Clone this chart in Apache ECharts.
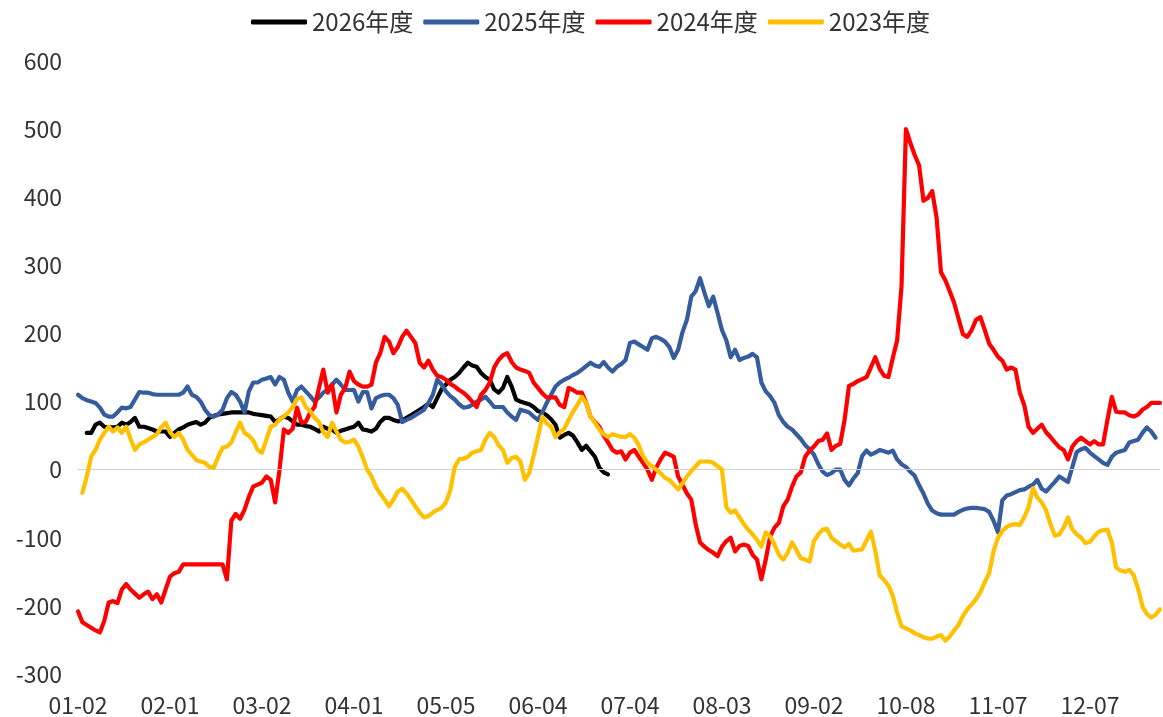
<!DOCTYPE html>
<html>
<head>
<meta charset="utf-8">
<title>年度走势对比</title>
<script src="https://cdn.jsdelivr.net/npm/echarts@6/dist/echarts.min.js"></script>
<style>
  html, body { margin: 0; padding: 0; background: #ffffff; }
  #chart { width: 1163px; height: 717px; }
</style>
</head>
<body>
<div id="chart"></div>
<script>
// X axis: trading-day index within the year; one label every 21 trading days.
const tickLabels = ['01-02', '02-01', '03-02', '04-01', '05-05', '06-04',
                    '07-04', '08-03', '09-02', '10-08', '11-07', '12-07'];
const TICK_STEP = 21;
const LAST_DAY = 247;

const seriesNames = ['2026年度', '2025年度', '2024年度', '2023年度'];
const seriesColors = ['#000000', '#355C9D', '#FF0000', '#FFC000'];

// Daily values, index = trading day (null = no data for that day)
const s2026 = [
  null, null, 54, 54, 66, 69, 63, 62, 62, 63, 69, 66, 70, 76, 63, 63, 61, 59, 56, 56,
  56, 48, 54, 59, 62, 66, 68, 70, 66, 69, 76, 79, 81, 82, 83, 84, 84, 84, 84, 84,
  82, 81, 80, 79, 78, 70, 74, 78, 76, 71, 66, 66, 64, 63, 60, 56, 63, 60, 59, 54,
  57, 59, 61, 63, 69, 59, 58, 56, 60, 70, 76, 76, 73, 71, 72, 76, 80, 84, 88, 92,
  97, 92, 105, 118, 125, 132, 136, 142, 150, 157, 153, 151, 142, 136, 132, 118, 113, 120, 136, 122,
  103, 100, 98, 96, 92, 86, 84, 80, 74, 66, 47, 51, 54, 50, 40, 29, 35, 27, 19, 3,
  -4, -7
];

const s2025 = [
  110, 105, 102, 100, 98, 91, 81, 78, 78, 84, 91, 90, 92, 103, 114, 113, 113, 111, 110, 110,
  110, 110, 110, 110, 113, 122, 110, 107, 100, 88, 80, 78, 81, 88, 105, 114, 110, 100, 84, 115,
  128, 128, 132, 134, 136, 125, 136, 132, 113, 100, 117, 122, 115, 108, 100, 106, 113, 118, 125, 132,
  125, 117, 117, 117, 100, 114, 114, 90, 105, 108, 110, 110, 105, 95, 70, 73, 76, 80, 84, 88,
  98, 110, 132, 125, 115, 108, 103, 96, 91, 92, 95, 100, 103, 107, 100, 92, 92, 92, 84, 78,
  73, 88, 86, 84, 78, 73, 84, 98, 110, 122, 128, 132, 135, 139, 142, 147, 152, 157, 153, 151,
  158, 150, 144, 151, 155, 161, 186, 188, 184, 180, 176, 193, 195, 192, 188, 180, 164, 176, 202, 220,
  254, 262, 281, 260, 240, 254, 230, 205, 190, 165, 176, 161, 164, 166, 170, 165, 128, 115, 108, 98,
  80, 70, 63, 59, 52, 45, 36, 30, 22, 8, -3, -8, -5, 0, 0, -15, -23, -13, -5, 20,
  28, 22, 25, 29, 27, 25, 28, 15, 8, 4, -3, -9, -23, -35, -50, -60, -64, -66, -66, -66,
  -66, -62, -59, -57, -56, -56, -57, -58, -62, -75, -92, -45, -38, -36, -33, -30, -29, -25, -22, -15,
  -28, -32, -25, -18, -10, -14, -18, 4, 26, 30, 32, 25, 20, 15, 10, 7, 19, 25, 27, 29,
  40, 42, 44, 54, 62, 56, 47
];

const s2024 = [
  -208, -224, -228, -232, -236, -239, -222, -195, -193, -196, -176, -168, -176, -182, -188, -183, -179, -190, -183, -195,
  -176, -157, -152, -150, -139, -139, -139, -139, -139, -139, -139, -139, -139, -139, -161, -75, -65, -72, -59, -40,
  -25, -22, -19, -10, -15, -48, 0, 59, 54, 60, 91, 69, 70, 84, 92, 120, 147, 113, 125, 84,
  110, 120, 144, 130, 125, 122, 122, 125, 157, 171, 195, 188, 171, 180, 195, 204, 195, 186, 157, 150,
  160, 147, 138, 136, 132, 126, 122, 117, 113, 107, 100, 92, 110, 117, 128, 150, 161, 168, 171, 158,
  150, 147, 145, 142, 128, 120, 112, 106, 106, 106, 95, 92, 120, 117, 113, 113, 98, 78, 70, 63,
  50, 40, 29, 25, 27, 15, 25, 29, 19, 10, 0, -15, 3, 15, 25, 22, 19, -10, -22, -35,
  -44, -80, -107, -113, -118, -122, -127, -113, -105, -100, -120, -112, -110, -112, -125, -132, -161, -132, -98, -85,
  -78, -54, -44, -25, -10, -4, 19, 28, 34, 42, 44, 53, 29, 35, 38, 73, 123, 126, 130, 133,
  136, 150, 165, 148, 138, 136, 164, 190, 270, 500, 480, 462, 447, 395, 399, 409, 370, 290, 278, 262,
  245, 222, 199, 195, 205, 220, 224, 205, 185, 176, 166, 160, 147, 150, 147, 113, 95, 63, 54, 60,
  66, 55, 48, 40, 33, 29, 15, 34, 42, 47, 42, 37, 42, 37, 37, 73, 107, 85, 84, 84,
  80, 78, 81, 88, 92, 98, 98, 98
];

const s2023 = [
  null, -34, -10, 19, 29, 44, 54, 63, 56, 62, 54, 63, 45, 29, 37, 40, 44, 48, 52, 62,
  69, 55, 48, 54, 44, 29, 22, 14, 12, 10, 4, 3, 19, 32, 34, 40, 55, 69, 54, 50,
  43, 29, 25, 44, 63, 66, 74, 78, 84, 92, 104, 106, 92, 86, 76, 70, 55, 48, 69, 56,
  44, 40, 41, 44, 34, 18, 0, -10, -25, -35, -44, -54, -44, -32, -28, -35, -44, -54, -63, -70,
  -68, -63, -59, -56, -48, -30, 4, 15, 16, 19, 25, 27, 29, 44, 54, 48, 36, 29, 10, 17,
  19, 12, -15, -5, 20, 48, 78, 68, 63, 48, 55, 60, 73, 85, 95, 107, 98, 78, 69, 59,
  52, 48, 52, 50, 48, 48, 52, 47, 36, 20, 10, 5, 0, -5, -12, -15, -22, -29, -20, -10,
  -2, 5, 12, 12, 12, 10, 5, 0, -55, -63, -60, -70, -80, -88, -95, -103, -113, -92, -98, -110,
  -125, -132, -122, -107, -118, -130, -132, -135, -105, -95, -88, -87, -100, -105, -110, -114, -109, -119, -118, -117,
  -104, -91, -119, -155, -162, -170, -185, -210, -230, -233, -236, -240, -243, -246, -248, -248, -245, -243, -251, -245,
  -236, -228, -215, -205, -198, -190, -180, -165, -152, -120, -100, -90, -84, -81, -80, -81, -70, -55, -27, -41,
  -48, -60, -80, -97, -95, -85, -70, -88, -95, -100, -108, -106, -98, -91, -89, -88, -107, -144, -148, -150,
  -147, -155, -175, -201, -212, -217, -213, -205
];

const seriesValues = [s2026, s2025, s2024, s2023];

const FONT = '"Noto Sans CJK SC", "Noto Sans", sans-serif';
const TEXT_COLOR = '#333333';

const chart = echarts.init(document.getElementById('chart'), null, { renderer: 'canvas' });

const series = seriesNames.map((name, k) => ({
  name: name,
  type: 'line',
  data: seriesValues[k].map((v, i) => [i, v]),
  showSymbol: false,
  symbol: 'none',
  connectNulls: false,
  lineStyle: { width: 4.2, color: seriesColors[k], cap: 'round', join: 'round' },
  itemStyle: { color: seriesColors[k] },
  emphasis: { disabled: true },
  z: 2 + k
}));

// Thin reference line at zero, carried by the first series
series[0].markLine = {
  silent: true,
  symbol: 'none',
  label: { show: false },
  lineStyle: { color: '#d0d0d0', width: 1, type: 'solid' },
  data: [{ yAxis: 0 }]
};

chart.setOption({
  animation: false,
  backgroundColor: '#ffffff',
  legend: {
    data: seriesNames,
    top: 5,
    left: 246,
    itemWidth: 56,
    itemHeight: 5,
    itemGap: 10,
    icon: 'roundRect',
    textStyle: { fontFamily: FONT, fontSize: 24, color: TEXT_COLOR }
  },
  grid: { left: 78, right: 3, top: 61, bottom: 42, containLabel: false },
  xAxis: {
    type: 'value',
    min: 0,
    max: LAST_DAY,
    interval: TICK_STEP,
    axisLine: { show: false },
    axisTick: { show: false },
    splitLine: { show: false },
    axisLabel: {
      fontFamily: FONT,
      fontSize: 23,
      color: TEXT_COLOR,
      margin: 20,
      formatter: function (v) {
        if (v % TICK_STEP !== 0) return '';
        const label = tickLabels[v / TICK_STEP];
        return label === undefined ? '' : label;
      }
    }
  },
  yAxis: {
    type: 'value',
    min: -300,
    max: 600,
    interval: 100,
    axisLine: { show: false },
    axisTick: { show: false },
    splitLine: { show: false },
    axisLabel: { fontFamily: FONT, fontSize: 23, color: TEXT_COLOR, margin: 16 }
  },
  series: series
});
</script>
</body>
</html>
